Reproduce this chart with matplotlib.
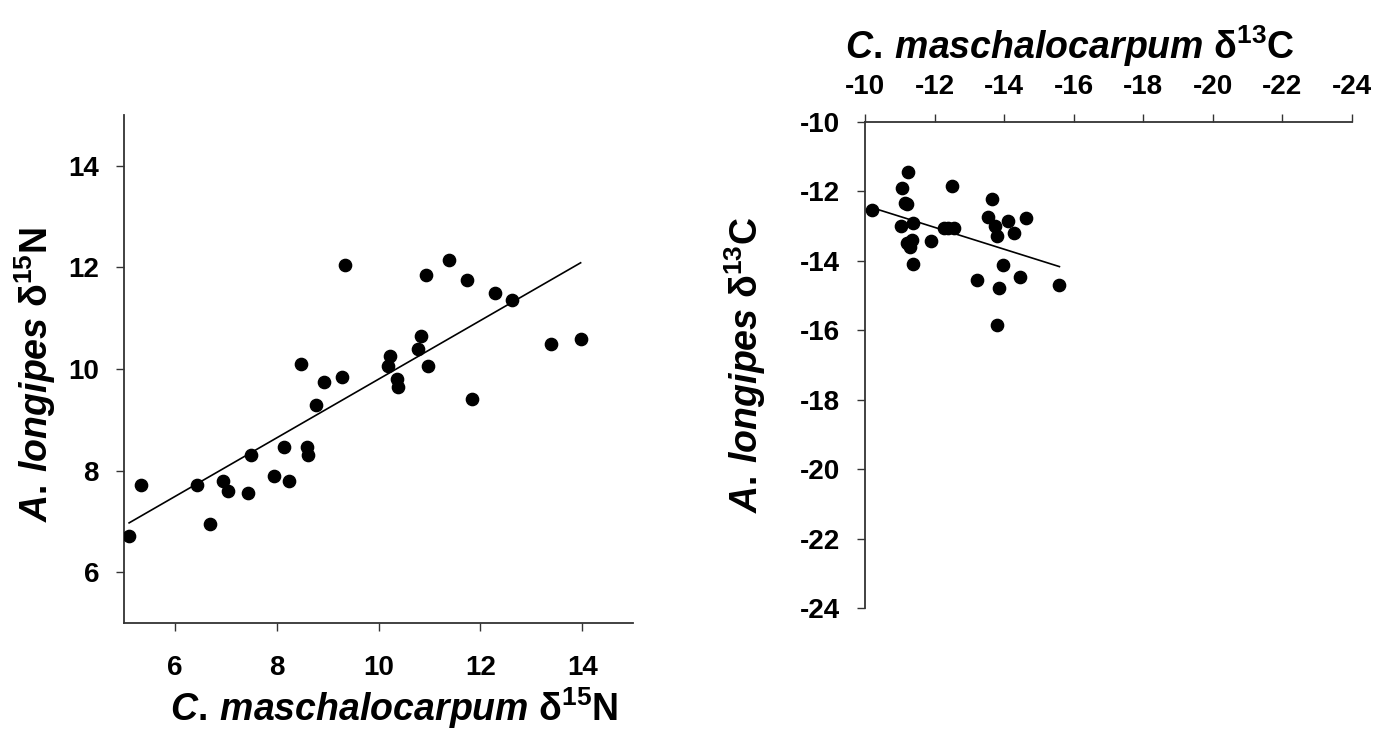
import numpy as np
import matplotlib
matplotlib.use("Agg")
import matplotlib.pyplot as plt

# Nitrogen isotopes (left panel)
c_mas_n15 = [5.10, 5.34, 6.44, 6.69, 6.94, 7.04, 7.44, 7.49, 7.94, 8.14, 8.24,
             8.48, 8.59, 8.61, 8.78, 8.93, 9.29, 9.34, 10.18, 10.23, 10.36,
             10.39, 10.78, 10.83, 10.93, 10.98, 11.38, 11.73, 11.84, 12.28,
             12.63, 13.38, 13.97]
a_lon_n15 = [6.71, 7.71, 7.71, 6.95, 7.80, 7.60, 7.56, 8.30, 7.90, 8.46, 7.80,
             10.09, 8.46, 8.30, 9.30, 9.75, 9.85, 12.05, 10.05, 10.25, 9.80,
             9.65, 10.40, 10.65, 11.85, 10.05, 12.15, 11.75, 9.41, 11.50,
             11.35, 10.50, 10.60]

# Carbon isotopes (right panel)
c_mas_c13 = [-10.19, -11.07, -11.24, -11.16, -11.20, -11.03, -11.39, -11.34,
             -11.20, -11.29, -11.39, -11.89, -12.27, -12.39, -12.55, -12.50,
             -13.23, -13.54, -13.64, -13.74, -13.79, -13.85, -13.79, -13.98,
             -14.10, -14.29, -14.47, -14.64, -15.59]
a_lon_c13 = [-12.54, -11.89, -11.44, -12.33, -12.35, -13.00, -12.90, -13.39,
             -13.49, -13.59, -14.09, -13.44, -13.04, -13.04, -13.04, -11.84,
             -14.54, -12.74, -12.23, -12.99, -13.29, -14.78, -15.84, -14.13,
             -12.84, -13.19, -14.46, -12.78, -14.69]

n_ticks = [6, 8, 10, 12, 14]
c_ticks = [-10, -12, -14, -16, -18, -20, -22, -24]

plt.rcParams['font.family'] = ['Liberation Sans', 'DejaVu Sans']
plt.rcParams['font.weight'] = 'bold'
plt.rcParams['axes.labelweight'] = 'bold'
plt.rcParams['axes.unicode_minus'] = False
plt.rcParams['mathtext.fontset'] = 'custom'
plt.rcParams['mathtext.rm'] = 'Liberation Sans:bold'
plt.rcParams['mathtext.it'] = 'Liberation Sans:bold:italic'
plt.rcParams['mathtext.bf'] = 'Liberation Sans:bold'

spine_col = '#333333'
tick_fs = 20
label_fs = 27

fig = plt.figure(figsize=(13.78, 7.38), dpi=100)

# ---- left panel: d15N ----
ax1 = fig.add_axes([0.090, 0.1558, 0.3694, 0.6883])
ax1.scatter(c_mas_n15, a_lon_n15, s=78, color='black', zorder=3)
x = np.array(c_mas_n15)
fit = np.polyfit(x, a_lon_n15, 1)
xl = np.array([x.min(), x.max()])
ax1.plot(xl, np.polyval(fit, xl), color='black', lw=1.2)

ax1.set_xlim(5, 15)
ax1.set_ylim(5, 15)
ax1.set_xticks(n_ticks)
ax1.set_yticks(n_ticks)
for s in ['top', 'right']:
    ax1.spines[s].set_visible(False)
for s in ['left', 'bottom']:
    ax1.spines[s].set_color(spine_col)
    ax1.spines[s].set_linewidth(1.3)
ax1.tick_params(axis='x', length=6, width=1, color=spine_col, pad=17, labelsize=tick_fs)
ax1.tick_params(axis='y', length=6, width=1, color=spine_col, pad=12, labelsize=tick_fs)
ax1.set_xlabel(r"$\mathit{C.}\,\mathit{maschalocarpum}$ δ$^{15}$N", fontsize=label_fs)
ax1.set_ylabel(r"$\mathit{A.}\,\mathit{longipes}$ δ$^{15}$N", fontsize=label_fs)
ax1.xaxis.set_label_coords(0.53, -0.167)
ax1.xaxis.label.set_va('center')
ax1.yaxis.set_label_coords(-0.175, 0.49)
ax1.yaxis.label.set_va('center')

# ---- right panel: d13C ----
ax2 = fig.add_axes([0.6277, 0.1762, 0.3534, 0.6585])
ax2.scatter(c_mas_c13, a_lon_c13, s=78, color='black', zorder=3)
x2 = np.array(c_mas_c13)
fit2 = np.polyfit(x2, a_lon_c13, 1)
xl2 = np.array([x2.max(), x2.min()])
ax2.plot(xl2, np.polyval(fit2, xl2), color='black', lw=1.2)

ax2.set_xlim(-10, -24)
ax2.set_ylim(-24, -10)
ax2.set_xticks(c_ticks)
ax2.set_yticks(c_ticks)
ax2.xaxis.tick_top()
ax2.xaxis.set_label_position('top')
for s in ['bottom', 'right']:
    ax2.spines[s].set_visible(False)
for s in ['left', 'top']:
    ax2.spines[s].set_color(spine_col)
    ax2.spines[s].set_linewidth(1.3)
ax2.tick_params(axis='x', length=6, width=1, color=spine_col, pad=10, labelsize=tick_fs)
ax2.tick_params(axis='y', length=6, width=1, color=spine_col, pad=12, labelsize=tick_fs)
ax2.set_xlabel(r"$\mathit{C.}\,\mathit{maschalocarpum}$ δ$^{13}$C", fontsize=label_fs)
ax2.set_ylabel(r"$\mathit{A.}\,\mathit{longipes}$ δ$^{13}$C", fontsize=label_fs)
ax2.xaxis.set_label_coords(0.42, 1.155)
ax2.xaxis.label.set_va('center')
ax2.yaxis.set_label_coords(-0.245, 0.5)
ax2.yaxis.label.set_va('center')

fig.savefig('out.png', dpi=100)
